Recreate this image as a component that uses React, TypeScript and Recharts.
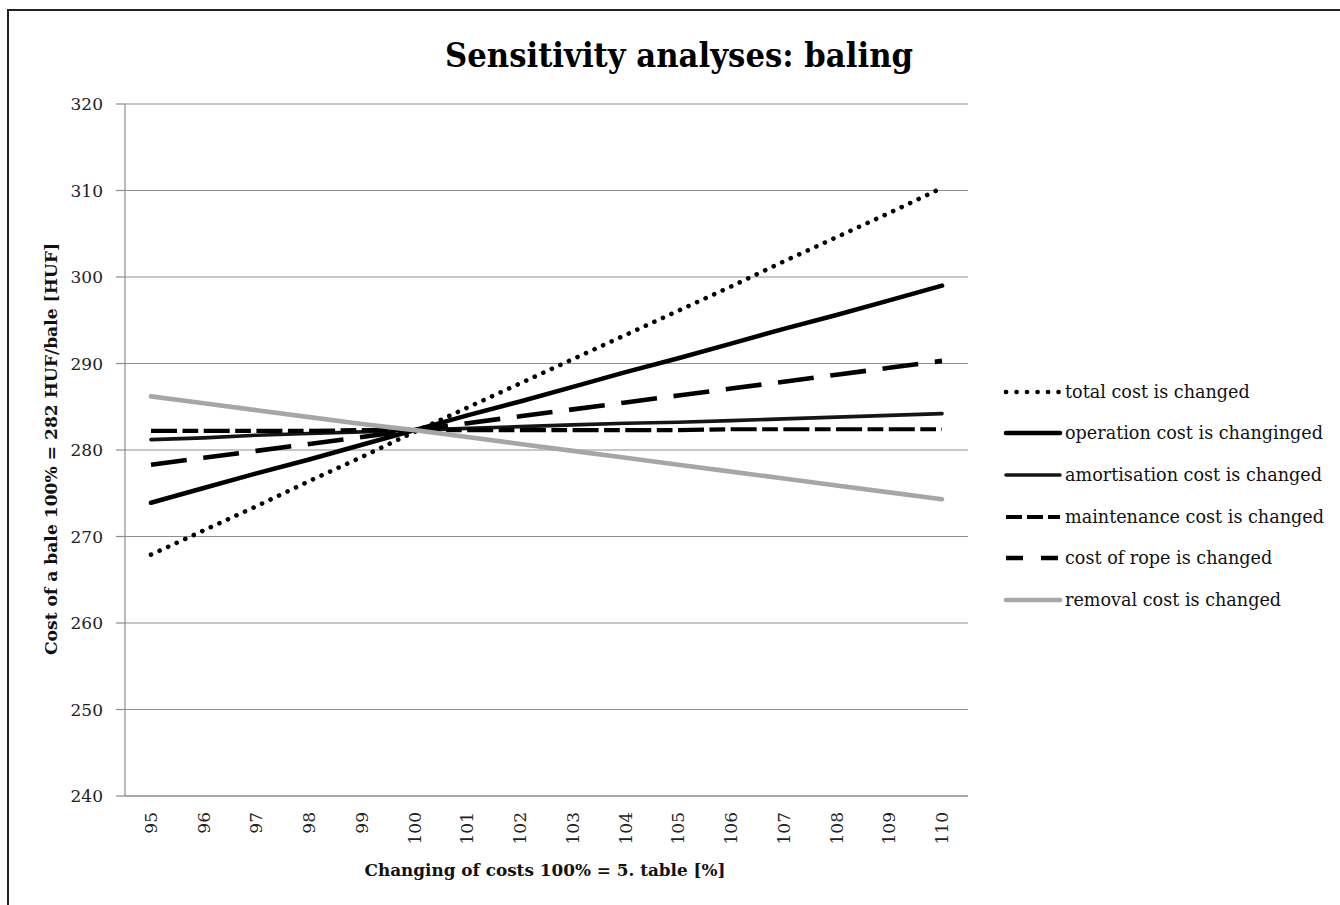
import { LineChart, Line, XAxis, YAxis, CartesianGrid, Legend } from 'recharts';

const changePct = [95, 96, 97, 98, 99, 100, 101, 102, 103, 104, 105, 106, 107, 108, 109, 110];

const totalCost = [267.9, 270.7, 273.5, 276.4, 279.2, 282.1, 284.9, 287.7, 290.5, 293.3, 296.1, 298.9, 301.8, 304.6, 307.4, 310.3];
const operationCost = [273.9, 275.6, 277.3, 278.9, 280.6, 282.3, 284.0, 285.6, 287.3, 289.0, 290.6, 292.3, 294.0, 295.6, 297.3, 299.0];
const amortisationCost = [281.2, 281.4, 281.7, 281.9, 282.1, 282.3, 282.5, 282.7, 282.9, 283.1, 283.2, 283.4, 283.6, 283.8, 284.0, 284.2];
const maintenanceCost = [282.2, 282.2, 282.2, 282.2, 282.3, 282.3, 282.3, 282.3, 282.3, 282.3, 282.3, 282.4, 282.4, 282.4, 282.4, 282.4];
const ropeCost = [278.3, 279.1, 279.9, 280.7, 281.5, 282.3, 283.1, 283.9, 284.7, 285.5, 286.3, 287.1, 287.9, 288.7, 289.5, 290.3];
const removalCost = [286.2, 285.4, 284.6, 283.8, 283.0, 282.3, 281.5, 280.7, 279.9, 279.1, 278.3, 277.5, 276.7, 275.9, 275.1, 274.3];

const yTicks = [240, 250, 260, 270, 280, 290, 300, 310, 320];

const data = changePct.map((pct, i) => ({
  pct,
  total: totalCost[i],
  operation: operationCost[i],
  amortisation: amortisationCost[i],
  maintenance: maintenanceCost[i],
  rope: ropeCost[i],
  removal: removalCost[i],
}));

const FONT = '"DejaVu Serif", serif';

const series = [
  { key: 'total', name: 'total cost is changed', color: '#000', width: 4.6, dash: '0.1 9.3', legendDash: '0.1 10.4', cap: 'round' },
  { key: 'operation', name: 'operation cost is changinged', color: '#000', width: 4.6, dash: undefined, legendDash: undefined, cap: 'round' },
  { key: 'amortisation', name: 'amortisation cost is changed', color: '#151515', width: 3.6, dash: undefined, legendDash: undefined, cap: 'round' },
  { key: 'maintenance', name: 'maintenance cost is changed', color: '#000', width: 4.2, dash: '26 5.5 15.7 5.5', legendDash: '16 5', cap: 'butt' },
  { key: 'rope', name: 'cost of rope is changed', color: '#000', width: 4.6, dash: '36 16.7', legendDash: '17 18', cap: 'butt' },
  { key: 'removal', name: 'removal cost is changed', color: '#a6a6a6', width: 4.6, dash: undefined, legendDash: undefined, cap: 'round' },
];

function XTick(props: any) {
  const { x, y, payload } = props;
  return (
    <g transform={`translate(${x},${y}) rotate(-90)`}>
      <text x={-8} y={0} textAnchor="end" dominantBaseline="central" fontFamily={FONT} fontSize={17} fill="#222">
        {payload.value}
      </text>
    </g>
  );
}

function LegendBox() {
  return (
    <div style={{ fontFamily: FONT, fontSize: 17.6, color: '#111' }}>
      {series.map((s) => (
        <div key={s.key} style={{ display: 'flex', alignItems: 'center', height: 41.6 }}>
          <svg width={62} height={12} style={{ flex: 'none' }}>
            <line
              x1={5}
              y1={6}
              x2={59}
              y2={6}
              stroke={s.color}
              strokeWidth={s.width}
              strokeDasharray={s.legendDash}
              strokeLinecap={s.cap as any}
            />
          </svg>
          <span style={{ marginLeft: 2, whiteSpace: 'nowrap' }}>{s.name}</span>
        </div>
      ))}
    </div>
  );
}

export default function App() {
  return (
    <div style={{ position: 'absolute', left: 0, top: 0, width: 1340, height: 905, overflow: 'hidden', background: '#fff' }}>
      <div
        style={{
          position: 'absolute',
          left: 7,
          top: 9,
          width: 1360,
          height: 920,
          borderTop: '2px solid #222',
          borderLeft: '2px solid #222',
        }}
      />
      <div style={{ position: 'absolute', left: 0, top: 0 }}>
        <LineChart width={1340} height={905} data={data} margin={{ top: 104, right: 372, bottom: 49, left: 65 }}>
          <text
            x={679}
            y={67}
            textAnchor="middle"
            fontFamily={FONT}
            fontWeight="bold"
            fontSize={33}
            textLength={468}
            lengthAdjust="spacingAndGlyphs"
            fill="#000"
          >
            Sensitivity analyses: baling
          </text>
          <CartesianGrid vertical={false} stroke="#8f8f8f" strokeWidth={1} />
          <XAxis
            dataKey="pct"
            type="category"
            height={60}
            padding={{ left: 26, right: 26 }}
            axisLine={{ stroke: '#8c8c8c', strokeWidth: 1.2 }}
            tickLine={false}
            interval={0}
            tick={<XTick />}
            label={{
              content: () => (
                <text x={545} y={876} textAnchor="middle" fontFamily={FONT} fontWeight="bold" fontSize={17.5} textLength={361} lengthAdjust="spacingAndGlyphs" fill="#111">
                  Changing of costs 100% = 5. table [%]
                </text>
              ),
            }}
          />
          <YAxis
            width={60}
            domain={[240, 320]}
            ticks={yTicks}
            interval={0}
            tickSize={9}
            tickMargin={13}
            axisLine={{ stroke: '#8c8c8c', strokeWidth: 1.2 }}
            tickLine={{ stroke: '#8c8c8c', strokeWidth: 1.2 }}
            tick={{ fontFamily: FONT, fontSize: 17, fill: '#222' }}
            label={{
              content: () => (
                <text
                  transform="translate(57,449) rotate(-90)"
                  textAnchor="middle"
                  fontFamily={FONT}
                  fontWeight="bold"
                  fontSize={17.5}
                  textLength={412}
                  lengthAdjust="spacingAndGlyphs"
                  fill="#111"
                >
                  Cost of a bale 100% = 282 HUF/bale [HUF]
                </text>
              ),
            }}
          />
          <Legend
            layout="vertical"
            align="center"
            verticalAlign="middle"
            content={<LegendBox />}
            wrapperStyle={{ left: 1001, top: 371, width: 339 }}
          />
          {series.map((s) => (
            <Line
              key={s.key}
              dataKey={s.key}
              name={s.name}
              type="linear"
              stroke={s.color}
              strokeWidth={s.width}
              strokeDasharray={s.dash}
              strokeLinecap={s.cap as any}
              dot={false}
              activeDot={false}
              isAnimationActive={false}
            />
          ))}
        </LineChart>
      </div>
    </div>
  );
}
